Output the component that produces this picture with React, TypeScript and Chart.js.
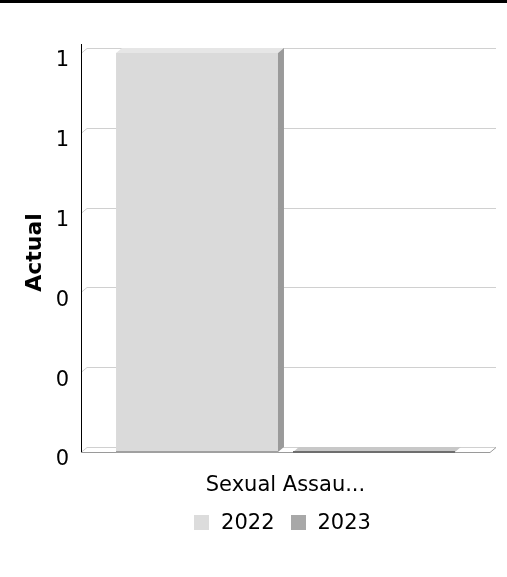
import React, { useEffect, useRef } from "react";
import { Chart, registerables } from "chart.js";

Chart.register(...registerables);

// ---- data ----
const categories = ["Sexual Assau..."];
const seriesNames = ["2022", "2023"];
const values2022 = [1];
const values2023 = [0];
const yTickValues = [0, 0.2, 0.4, 0.6, 0.8, 1];
const yAxisTitle = "Actual";

// ---- styles ----
const FONT = "'DejaVu Sans', 'Verdana', sans-serif";
const frontColors = ["#dadada", "#a9a9a9"];
const topColors = ["#e6e6e6", "#c8c8c8"];
const sideColors = ["#9a9a9a", "#8a8a8a"];
const edgeColors = ["#a0a0a0", "#6e6e6e"];
const legendColors = ["#dcdcdc", "#a8a8a8"];
const DX = 6;
const DY = 5;

const threeD = {
  id: "threeD",
  beforeDatasetsDraw(chart: any) {
    const { ctx, chartArea: a, scales } = chart;
    const y = scales.y;
    ctx.save();
    ctx.lineWidth = 1;
    ctx.strokeStyle = "#d0d0d0";
    yTickValues.forEach((v) => {
      const py = Math.round(y.getPixelForValue(v)) + 0.5;
      ctx.beginPath();
      ctx.moveTo(a.left, py);
      ctx.lineTo(a.left + DX, py - DY);
      ctx.lineTo(a.right + DX, py - DY);
      ctx.stroke();
    });
    ctx.restore();
  },
  afterDatasetsDraw(chart: any) {
    const { ctx, chartArea: a } = chart;
    ctx.save();
    const poly = (pts: number[][]) => {
      ctx.beginPath();
      ctx.moveTo(pts[0][0], pts[0][1]);
      for (let k = 1; k < pts.length; k++) ctx.lineTo(pts[k][0], pts[k][1]);
      ctx.closePath();
      ctx.fill();
    };
    // front bottom edge + right diagonal
    const by = Math.round(a.bottom) + 0.5;
    ctx.strokeStyle = "#9a9a9a";
    ctx.lineWidth = 1;
    ctx.beginPath();
    ctx.moveTo(a.left, by);
    ctx.lineTo(a.right, by);
    ctx.lineTo(a.right + DX, by - DY);
    ctx.stroke();

    chart.data.datasets.forEach((ds: any, i: number) => {
      const meta = chart.getDatasetMeta(i);
      meta.data.forEach((el: any) => {
        const { x, y, base, width } = el.getProps(["x", "y", "base", "width"], true);
        const l = x - width / 2;
        const r = x + width / 2;
        const top = Math.min(y, base);
        ctx.fillStyle = topColors[i];
        poly([[l, top], [r, top], [r + DX, top - DY], [l + DX, top - DY]]);
        if (base - top > 1) {
          ctx.fillStyle = sideColors[i];
          poly([[r, top], [r + DX, top - DY], [r + DX, base - DY], [r, base]]);
        }
        ctx.strokeStyle = edgeColors[i];
        ctx.lineWidth = 2;
        ctx.beginPath();
        ctx.moveTo(l, base);
        ctx.lineTo(r, base);
        ctx.stroke();
      });
    });
    ctx.restore();
  },
  afterDraw(chart: any) {
    const { ctx, chartArea: a, width } = chart;
    ctx.save();
    // y axis line
    ctx.strokeStyle = "#000";
    ctx.lineWidth = 1;
    ctx.beginPath();
    ctx.moveTo(Math.round(a.left) + 0.5, a.top - 9);
    ctx.lineTo(Math.round(a.left) + 0.5, a.bottom);
    ctx.stroke();
    // top border
    ctx.fillStyle = "#000";
    ctx.fillRect(0, 0, width, 3);
    // legend
    ctx.font = `21px ${FONT}`;
    ctx.textBaseline = "middle";
    ctx.textAlign = "left";
    const box = 15;
    const gapText = 12;
    const gapItem = 16;
    const widths = seriesNames.map((n) => box + gapText + ctx.measureText(n).width);
    const total = widths.reduce((s, w) => s + w, 0) + gapItem * (widths.length - 1);
    let cx = (a.left + a.right) / 2 - 3 - total / 2;
    const ly = 523;
    seriesNames.forEach((n, i) => {
      ctx.fillStyle = legendColors[i];
      ctx.fillRect(Math.round(cx), ly - 8, box, box);
      ctx.fillStyle = "#000";
      ctx.fillText(n, cx + box + gapText, ly + 1);
      cx += widths[i] + gapItem;
    });
    ctx.restore();
  },
};

export default function App() {
  const ref = useRef<HTMLCanvasElement>(null);
  useEffect(() => {
    Chart.defaults.font.family = FONT;
    Chart.defaults.font.size = 21;
    Chart.defaults.color = "#000";
    const chart = new Chart(ref.current as HTMLCanvasElement, {
      type: "bar",
      data: {
        labels: categories,
        datasets: [
          { label: seriesNames[0], data: values2022, backgroundColor: frontColors[0], borderWidth: 0 },
          { label: seriesNames[1], data: values2023, backgroundColor: frontColors[1], borderWidth: 0 },
        ],
      },
      options: {
        animation: false,
        responsive: false,
        devicePixelRatio: 1,
        layout: { padding: { top: 53, right: 17, left: 0, bottom: 0 } },
        datasets: { bar: { categoryPercentage: 0.8655, barPercentage: 0.915 } } as any,
        plugins: { legend: { display: false }, tooltip: { enabled: false } },
        scales: {
          x: {
            grid: { display: false },
            border: { display: false },
            ticks: { padding: 13, font: { size: 21, family: FONT }, color: "#000" },
            afterFit: (s: any) => {
              s.height = 125;
            },
          },
          y: {
            min: 0,
            max: 1,
            grid: { display: false },
            border: { display: false },
            afterBuildTicks: (s: any) => {
              s.ticks = yTickValues.map((v) => ({ value: v }));
            },
            ticks: {
              padding: 4,
              labelOffset: 8,
              font: { size: 21, family: FONT },
              color: "#000",
              callback: (v: any) => String(Math.round(Number(v))),
            },
            title: {
              display: true,
              text: yAxisTitle,
              font: { size: 22, weight: "bold", family: FONT },
              color: "#000",
              padding: { top: 22, bottom: 0 },
            },
            afterFit: (s: any) => {
              s.width = 81;
            },
          },
        },
      },
      plugins: [threeD],
    });
    return () => chart.destroy();
  }, []);
  return (
    <div style={{ position: "fixed", left: 0, top: 0, width: 507, height: 577, background: "#fff" }}>
      <canvas ref={ref} width={507} height={577} style={{ width: 507, height: 577, display: "block" }} />
    </div>
  );
}
